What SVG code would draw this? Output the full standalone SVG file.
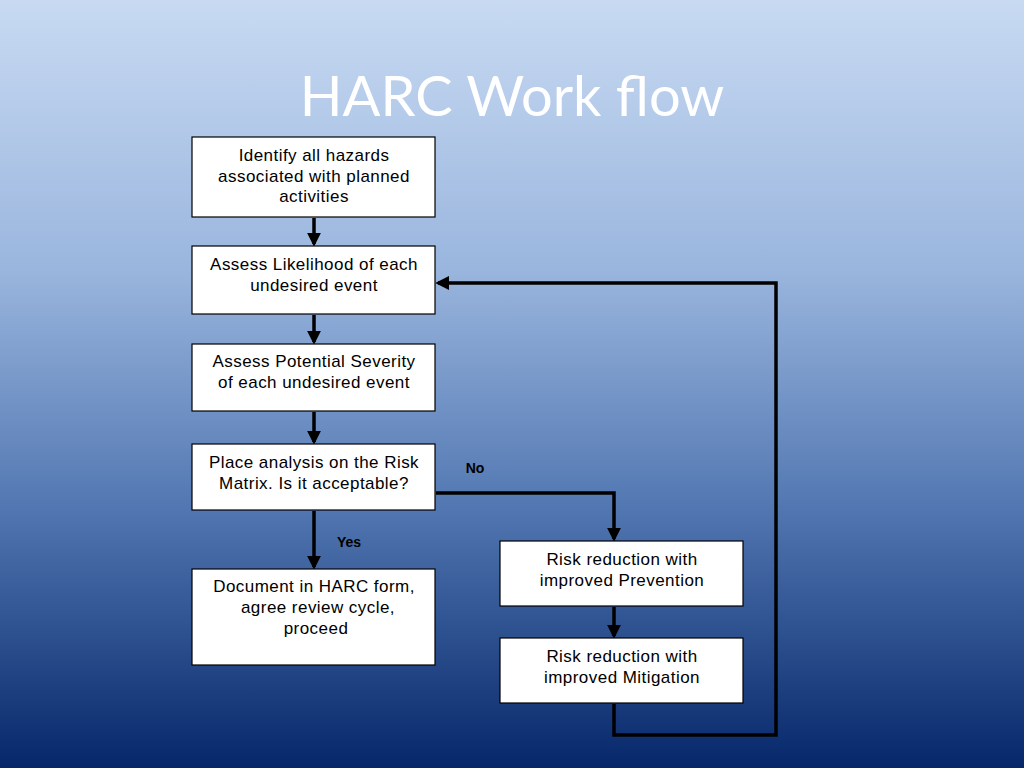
<svg xmlns="http://www.w3.org/2000/svg" width="1024" height="768" viewBox="0 0 1024 768">
<defs>
<linearGradient id="bg" x1="0" y1="0" x2="0" y2="1">
<stop offset="0" stop-color="#c8daf2"/>
<stop offset="0.35" stop-color="#9ab6de"/>
<stop offset="0.65" stop-color="#5479b3"/>
<stop offset="1" stop-color="#06276a"/>
</linearGradient>
<marker id="ah" markerWidth="4" markerHeight="4" refX="3.2" refY="2" orient="auto" markerUnits="strokeWidth">
<path d="M0,0 L4,2 L0,4 Z" fill="#000"/>
</marker>
<style>
.box{fill:#fff;stroke:#000;stroke-width:1.2}
.t{font-family:"Liberation Sans",Arial,sans-serif;font-size:17px;letter-spacing:0.45px;fill:#000;text-anchor:middle}
.lbl{font-family:"Liberation Sans",Arial,sans-serif;font-size:14px;font-weight:bold;fill:#000;text-anchor:middle}
.c{fill:none;stroke:#000;stroke-width:3.5}
</style>
</defs>
<rect x="0" y="0" width="1024" height="768" fill="url(#bg)"/>
<text x="512" y="116" font-family="Lato,'Open Sans',sans-serif" font-size="56" fill="#fff" text-anchor="middle">HARC Work flow</text>
<g id="connectors">
<path class="c" d="M314,218 L314,244" marker-end="url(#ah)"/>
<path class="c" d="M314,315 L314,342" marker-end="url(#ah)"/>
<path class="c" d="M314,412 L314,442" marker-end="url(#ah)"/>
<path class="c" d="M314,511 L314,567" marker-end="url(#ah)"/>
<path class="c" d="M436,493 L614,493 L614,539" marker-end="url(#ah)"/>
<path class="c" d="M614,607 L614,636" marker-end="url(#ah)"/>
<path class="c" d="M614,704 L614,735 L776,735 L776,283 L438,283" marker-end="url(#ah)"/>
</g>
<g id="n1"><rect class="box" x="192" y="137" width="243" height="80"/>
<text class="t" x="314" y="161">Identify all hazards</text>
<text class="t" x="314" y="182">associated with planned</text>
<text class="t" x="314" y="202">activities</text></g>
<g id="n2"><rect class="box" x="192" y="246" width="243" height="68"/>
<text class="t" x="314" y="270">Assess Likelihood of each</text>
<text class="t" x="314" y="291">undesired event</text></g>
<g id="n3"><rect class="box" x="192" y="344" width="243" height="67"/>
<text class="t" x="314" y="367">Assess Potential Severity</text>
<text class="t" x="314" y="388">of each undesired event</text></g>
<g id="n4"><rect class="box" x="192" y="444" width="243" height="66"/>
<text class="t" x="314" y="468">Place analysis on the Risk</text>
<text class="t" x="314" y="489">Matrix. Is it acceptable?</text></g>
<g id="n5"><rect class="box" x="192" y="569" width="243" height="96"/>
<text class="t" x="314" y="592">Document in HARC form,</text>
<text class="t" x="318" y="613">agree review cycle,</text>
<text class="t" x="316" y="634">proceed</text></g>
<g id="n6"><rect class="box" x="500" y="541" width="243" height="65"/>
<text class="t" x="622" y="565">Risk reduction with</text>
<text class="t" x="622" y="586">improved Prevention</text></g>
<g id="n7"><rect class="box" x="500" y="638" width="243" height="65"/>
<text class="t" x="622" y="662">Risk reduction with</text>
<text class="t" x="622" y="683">improved Mitigation</text></g>
<g id="labels">
<text class="lbl" x="475" y="473">No</text>
<text class="lbl" x="349" y="547">Yes</text>
</g>
</svg>
